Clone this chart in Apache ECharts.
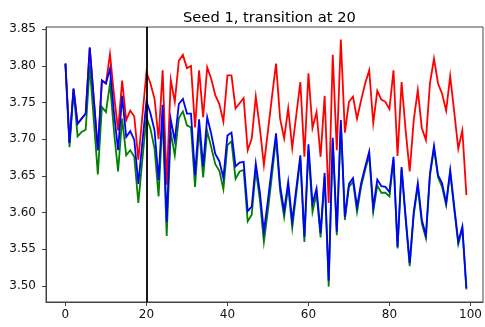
<!DOCTYPE html>
<html>
<head>
<meta charset="utf-8">
<script src="https://cdn.jsdelivr.net/npm/echarts@6/dist/echarts.min.js"></script>
<style>
  html, body { margin: 0; padding: 0; background: #fff; }
  #chart { width: 485px; height: 327px; }
</style>
</head>
<body>
<div id="chart"></div>
<script>
// Step index of each sample
const steps = Array.from({ length: 100 }, (_, i) => i);

const redValues = [
  3.803, 3.695, 3.769, 3.721, 3.728, 3.735, 3.825, 3.755, 3.685, 3.780,
  3.776, 3.816, 3.760, 3.712, 3.780, 3.726, 3.739, 3.731, 3.672, 3.732,
  3.791, 3.776, 3.755, 3.700, 3.794, 3.638, 3.781, 3.751, 3.807, 3.815,
  3.797, 3.800, 3.716, 3.794, 3.730, 3.798, 3.782, 3.760, 3.748, 3.724,
  3.787, 3.787, 3.742, 3.749, 3.756, 3.685, 3.701, 3.758, 3.715, 3.665,
  3.711, 3.758, 3.803, 3.728, 3.701, 3.742, 3.688, 3.733, 3.778, 3.676,
  3.790, 3.715, 3.737, 3.676, 3.759, 3.613, 3.815, 3.685, 3.836, 3.709,
  3.751, 3.758, 3.728, 3.753, 3.776, 3.794, 3.722, 3.766, 3.754, 3.751,
  3.741, 3.794, 3.677, 3.778, 3.712, 3.656, 3.726, 3.767, 3.715, 3.699,
  3.776, 3.810, 3.776, 3.762, 3.739, 3.786, 3.737, 3.687, 3.712, 3.624
];

const greenValues = [
  3.803, 3.689, 3.767, 3.704, 3.710, 3.713, 3.800, 3.726, 3.652, 3.744,
  3.737, 3.776, 3.710, 3.656, 3.728, 3.678, 3.685, 3.676, 3.613, 3.672,
  3.730, 3.714, 3.687, 3.622, 3.732, 3.568, 3.710, 3.678, 3.729, 3.738,
  3.719, 3.716, 3.635, 3.714, 3.648, 3.711, 3.689, 3.666, 3.657, 3.632,
  3.692, 3.697, 3.646, 3.656, 3.658, 3.588, 3.597, 3.658, 3.618, 3.560,
  3.603, 3.651, 3.701, 3.629, 3.594, 3.635, 3.579, 3.626, 3.673, 3.560,
  3.685, 3.601, 3.626, 3.566, 3.649, 3.499, 3.699, 3.569, 3.721, 3.590,
  3.635, 3.642, 3.601, 3.635, 3.658, 3.678, 3.601, 3.637, 3.627, 3.627,
  3.622, 3.672, 3.551, 3.659, 3.590, 3.527, 3.597, 3.635, 3.585, 3.565,
  3.650, 3.687, 3.648, 3.635, 3.610, 3.654, 3.604, 3.557, 3.578, 3.495
];

const blueValues = [
  3.803, 3.695, 3.769, 3.721, 3.728, 3.735, 3.825, 3.755, 3.685, 3.780,
  3.776, 3.796, 3.735, 3.685, 3.759, 3.703, 3.711, 3.699, 3.639, 3.696,
  3.752, 3.735, 3.712, 3.644, 3.747, 3.587, 3.727, 3.698, 3.748, 3.755,
  3.735, 3.735, 3.651, 3.727, 3.663, 3.730, 3.707, 3.680, 3.670, 3.647,
  3.705, 3.709, 3.663, 3.668, 3.669, 3.602, 3.608, 3.667, 3.628, 3.574,
  3.617, 3.663, 3.708, 3.637, 3.602, 3.642, 3.588, 3.633, 3.678, 3.567,
  3.693, 3.612, 3.633, 3.572, 3.654, 3.507, 3.702, 3.574, 3.726, 3.594,
  3.639, 3.647, 3.608, 3.640, 3.662, 3.683, 3.607, 3.645, 3.636, 3.635,
  3.628, 3.676, 3.553, 3.662, 3.594, 3.531, 3.601, 3.640, 3.590, 3.569,
  3.653, 3.691, 3.651, 3.640, 3.613, 3.658, 3.608, 3.560, 3.581, 3.497
];

const xTicks = [0, 20, 40, 60, 80, 100];
const yTicks = [3.50, 3.55, 3.60, 3.65, 3.70, 3.75, 3.80, 3.85];
const transitionStep = 20;
const titleText = 'Seed 1, transition at 20';

const FONT = 'DejaVu Sans';
const chart = echarts.init(document.getElementById('chart'), null, { renderer: 'canvas' });

function pairs(values) {
  return values.map((v, i) => [steps[i], v]);
}

function lineSeries(values, color, z) {
  return {
    type: 'line',
    data: pairs(values),
    showSymbol: false,
    symbol: 'none',
    animation: false,
    z: z,
    lineStyle: { color: color, width: 1.8, join: 'miter' },
    emphasis: { disabled: true }
  };
}

const spine = '#444';

const option = {
  animation: false,
  backgroundColor: '#ffffff',
  title: {
    text: titleText,
    left: 178,
    top: 6,
    textStyle: { fontFamily: FONT, fontSize: 14.7, fontWeight: 'normal', color: '#000' }
  },
  grid: {
    left: 46, right: 2, top: 27, bottom: 25,
    show: true, borderColor: spine, borderWidth: 1, backgroundColor: 'transparent'
  },
  xAxis: {
    type: 'value',
    min: -4.8,
    max: 103.1,
    splitLine: { show: false },
    axisLine: { show: true, onZero: false, lineStyle: { color: spine, width: 1 } },
    axisTick: { show: true, length: 4, lineStyle: { color: spine }, customValues: xTicks },
    axisLabel: {
      customValues: xTicks,
      fontFamily: FONT, fontSize: 12, color: '#111', margin: 7,
      formatter: v => String(v)
    }
  },
  yAxis: {
    type: 'value',
    min: 3.478,
    max: 3.853,
    splitLine: { show: false },
    axisLine: { show: true, onZero: false, lineStyle: { color: spine, width: 1 } },
    axisTick: { show: true, length: 4, lineStyle: { color: spine }, customValues: yTicks },
    axisLabel: {
      customValues: yTicks,
      fontFamily: FONT, fontSize: 12, color: '#111', margin: 10,
      formatter: v => Number(v).toFixed(2)
    }
  },
  series: [
    lineSeries(redValues, '#ff0000', 2),
    lineSeries(greenValues, '#008000', 3),
    lineSeries(blueValues, '#0000ff', 4),
    {
      type: 'line',
      data: [],
      z: 5,
      markLine: {
        silent: true,
        symbol: ['none', 'none'],
        animation: false,
        label: { show: false },
        lineStyle: { color: '#000', width: 1.8, type: 'solid' },
        data: [{ xAxis: transitionStep }]
      }
    }
  ]
};

chart.setOption(option);
</script>
</body>
</html>
